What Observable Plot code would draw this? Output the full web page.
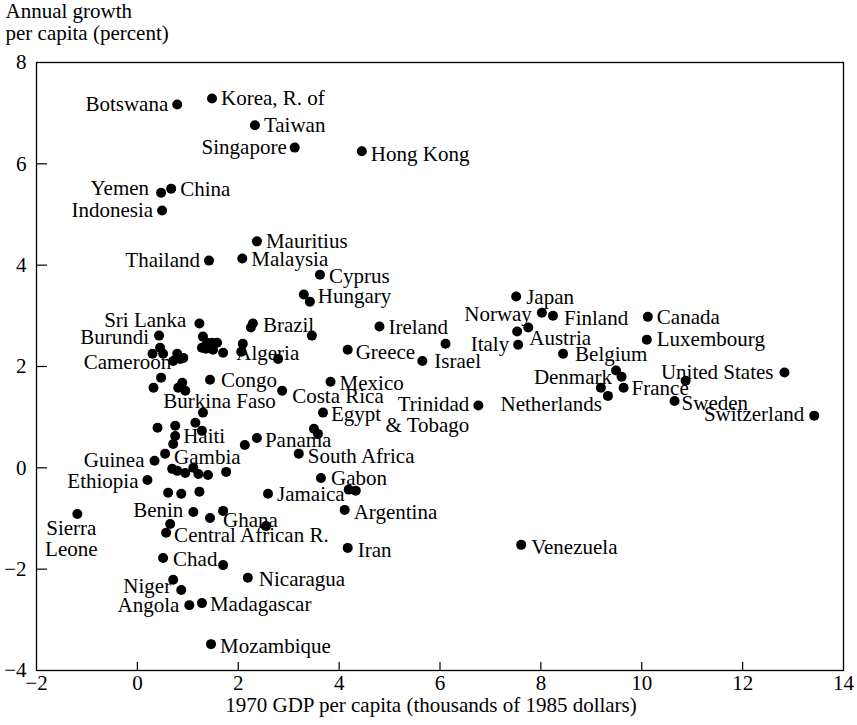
<!DOCTYPE html>
<html><head><meta charset="utf-8">
<script src="https://cdn.jsdelivr.net/npm/d3@7"></script>
<script src="https://cdn.jsdelivr.net/npm/@observablehq/plot@0.6"></script>
<style>body{margin:0;background:#fff}</style>
</head><body><div id="chart"></div>
<script>
// ---- data ----
const country = [
  "Botswana","Korea, R. of","Taiwan","Singapore","Hong Kong","Yemen","China","Indonesia",
  "Mauritius","Thailand","Malaysia","Cyprus","Hungary","Brazil","Sri Lanka","Burundi",
  "Cameroon","Algeria","Congo","Burkina Faso","Costa Rica","Mexico","Egypt","Haiti",
  "Panama","Gambia","Guinea","South Africa","Ethiopia","Gabon","Jamaica","Argentina",
  "Benin","Ghana","Central African R.","Sierra Leone","Chad","Nicaragua","Niger","Angola",
  "Madagascar","Mozambique","Iran","Venezuela","Ireland","Greece","Israel","Japan",
  "Norway","Finland","Austria","Italy","Belgium","Canada","Luxembourg","Denmark",
  "France","Netherlands","United States","Sweden","Switzerland","Trinidad & Tobago",
  // unlabeled countries
  "","","","","","","","","","","","","","",
  "","","","","","","","",
  "","","","","","",
  "","","","","",
  "","","","","","",
  "","","","","","","",
  "","","",
  "","","","",""
];
const gdp1970 = [
  0.79,1.48,2.33,3.12,4.45,0.47,0.67,0.49,
  2.37,1.42,2.08,3.62,3.42,2.29,1.23,0.43,
  0.71,2.06,1.44,0.95,2.87,3.83,3.68,0.75,
  2.37,0.55,0.34,3.20,0.20,3.64,2.59,4.11,
  1.11,1.70,0.57,-1.19,0.51,2.19,0.71,1.03,
  1.28,1.46,4.17,7.61,4.80,4.17,5.65,7.51,
  8.02,8.24,7.75,7.55,8.44,10.12,10.10,9.49,
  9.64,9.33,12.83,10.65,13.42,6.76,
  3.30,2.25,2.09,3.46,6.11,7.53,9.60,9.19,10.87,3.50,3.58,4.19,4.33,2.79,
  1.30,1.38,1.48,1.58,1.28,1.36,1.50,1.70,
  0.30,0.45,0.51,0.79,0.85,0.91,
  0.47,0.32,0.89,0.81,1.30,
  0.40,0.75,1.15,1.28,0.71,2.13,
  0.69,0.79,0.95,1.11,1.21,1.40,1.76,
  0.61,0.87,1.23,
  1.44,2.55,0.65,1.70,0.87
];
const growth = [
  7.17,7.29,6.76,6.32,6.25,5.43,5.51,5.08,
  4.47,4.09,4.13,3.81,3.28,2.85,2.85,2.61,
  2.11,2.29,1.74,1.52,1.52,1.70,1.09,0.63,
  0.59,0.28,0.14,0.28,-0.24,-0.20,-0.51,-0.83,
  -0.87,-0.85,-1.28,-0.91,-1.78,-2.17,-2.21,-2.71,
  -2.67,-3.48,-1.58,-1.52,2.79,2.33,2.11,3.38,
  3.06,3.00,2.77,2.43,2.25,2.98,2.53,1.92,
  1.58,1.42,1.88,1.32,1.03,1.23,
  3.42,2.77,2.45,2.61,2.45,2.69,1.80,1.58,1.72,0.77,0.67,-0.43,-0.45,2.15,
  2.59,2.47,2.47,2.47,2.37,2.35,2.33,2.27,
  2.25,2.37,2.25,2.25,2.15,2.17,
  1.78,1.58,1.68,1.58,1.09,
  0.79,0.83,0.89,0.73,0.47,0.45,
  -0.02,-0.06,-0.10,0.00,-0.12,-0.14,-0.08,
  -0.49,-0.51,-0.47,
  -0.99,-1.15,-1.11,-1.92,-2.41
];
const xTicks = [-2,0,2,4,6,8,10,12,14];
const yTicks = [-4,-2,0,2,4,6,8];
const xTitle = "1970 GDP per capita (thousands of 1985 dollars)";
const yTitle = "Annual growth\nper capita (percent)";
const labelText = {"Sierra Leone":"Sierra\nLeone","Trinidad & Tobago":"Trinidad\n& Tobago"};

// ---- label placement (style, not data): [textAnchor, dx, dy, lineAnchor] ----
const placement = {
  "Botswana":["end",-9,0],"Korea, R. of":["start",9,0],"Taiwan":["start",9,0],
  "Singapore":["end",-8,0],"Hong Kong":["start",9,3],"Yemen":["end",-12,-4],
  "China":["start",9,1],"Indonesia":["end",-9,0],"Mauritius":["start",9,0],
  "Thailand":["end",-9,0],"Malaysia":["start",9,1],"Cyprus":["start",9,1],
  "Hungary":["start",8,-5],"Brazil":["start",10,2],"Sri Lanka":["end",-13,-3],
  "Burundi":["end",-10,2],"Cameroon":["end",-2,1],"Algeria":["start",-5,1],
  "Congo":["start",11,1],"Burkina Faso":["start",-22,10],"Costa Rica":["start",10,5],
  "Mexico":["start",9,2],"Egypt":["start",8,2],"Haiti":["start",8,0],
  "Panama":["start",8,2],"Gambia":["start",9,4],"Guinea":["end",-10,0],
  "South Africa":["start",9,3],"Ethiopia":["end",-9,1],"Gabon":["start",10,0],
  "Jamaica":["start",9,1],"Argentina":["start",9,2],"Benin":["end",-10,-2],
  "Ghana":["start",0,9],"Central African R.":["start",8,3],"Sierra Leone":["middle",-6,6,"top"],
  "Chad":["start",10,1],"Nicaragua":["start",11,1],"Niger":["end",-2,6],
  "Angola":["end",-10,0],"Madagascar":["start",8,1],"Mozambique":["start",9,2],
  "Iran":["start",10,2],"Venezuela":["start",10,2],"Ireland":["start",9,1],
  "Greece":["start",8,2],"Israel":["start",12,0],"Japan":["start",10,1],
  "Norway":["end",-10,1],"Finland":["start",11,2],"Austria":["start",1,11],
  "Italy":["end",-9,0],"Belgium":["start",12,0],"Canada":["start",9,0],
  "Luxembourg":["start",10,0],"Denmark":["end",-4,7],"France":["start",8,0],
  "Netherlands":["end",-6,8],"United States":["end",-11,0],"Sweden":["start",7,2],
  "Switzerland":["end",-10,-1],"Trinidad & Tobago":["end",-9,-9,"top"]
};

const rows = country.map((c, i) => ({country: c, gdp: gdp1970[i], growth: growth[i]}));

const W = 857, H = 725, mL = 36, mR = 14, mT = 62, mB = 55;
const innerW = W - mL - mR, innerH = H - mT - mB;
const font = "'Liberation Serif', 'Times New Roman', serif";
const fmt = d => d < 0 ? "\u2212" + (-d) : String(d);

const labelMarks = rows.filter(r => r.country).map(r => {
  const p = placement[r.country] || ["start", 9, 0];
  return Plot.text([r], {
    x: "gdp", y: "growth",
    text: d => labelText[d.country] || d.country,
    textAnchor: p[0], dx: p[1], dy: p[2], lineAnchor: p[3] || "middle",
    lineHeight: 1.0, fill: "#000", fontSize: 21
  });
});

const chart = Plot.plot({
  width: W, height: H,
  marginLeft: mL, marginRight: mR, marginTop: mT, marginBottom: mB,
  x: {domain: [-2, 14], axis: null},
  y: {domain: [-4, 8], axis: null},
  style: {fontFamily: font, fontSize: "21px", background: "#fff", color: "#000"},
  marks: [
    Plot.frame({stroke: "#000", strokeWidth: 1.3}),
    Plot.tickX(xTicks.slice(1, -1), {x: d => d, insetTop: innerH - 8, stroke: "#000", strokeWidth: 1.2}),
    Plot.tickY(yTicks.slice(1, -1), {y: d => d, insetRight: innerW - 11, stroke: "#000", strokeWidth: 1.2}),
    Plot.text(xTicks, {x: d => d, frameAnchor: "bottom", dy: 19, text: d => fmt(d), fontSize: 21, fill: "#000"}),
    Plot.text(yTicks, {y: d => d, frameAnchor: "left", dx: -10, textAnchor: "end", text: d => fmt(d), fontSize: 21, fill: "#000"}),
    Plot.text([xTitle], {frameAnchor: "bottom", dy: 41, dx: -9, text: d => d, fontSize: 21, fill: "#000"}),
    Plot.text([yTitle], {frameAnchor: "top-left", textAnchor: "start", lineAnchor: "top", dx: -31, dy: -60, lineHeight: 1.05, text: d => d, fontSize: 21, fill: "#000"}),
    Plot.dot(rows, {x: "gdp", y: "growth", r: 5, fill: "#000", stroke: "none"}),
    ...labelMarks
  ]
});
document.getElementById("chart").append(chart);
</script>
</body></html>
